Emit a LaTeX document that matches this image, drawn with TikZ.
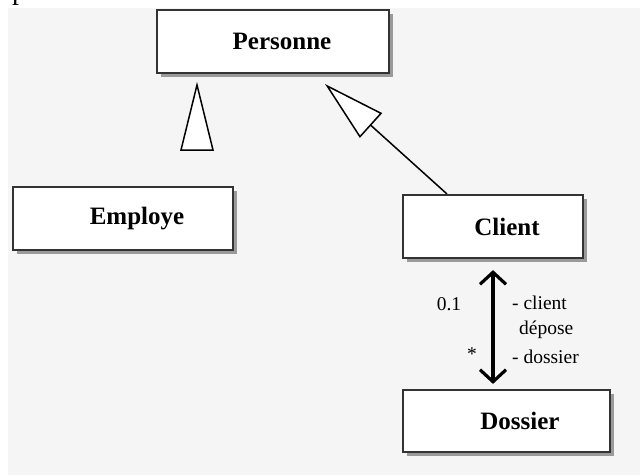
\documentclass[tikz,border=0pt]{standalone}
\usepackage{fontspec}
\setmainfont{Liberation Serif}
\usetikzlibrary{arrows.meta,shadows,calc}
\begin{document}
\begin{tikzpicture}[x=1pt,y=-1pt,
  cls/.style={draw=black!80, line width=2.2pt, fill=white, minimum height=63pt, inner sep=0pt,
    font=\fontsize{25}{28}\selectfont\bfseries,
    drop shadow={shadow xshift=4pt, shadow yshift=-4pt, fill=black!75}},
  lbl/.style={font=\fontsize{19.5}{22}\selectfont, inner sep=0pt},
  gen/.style={line width=1.5pt, -{Triangle[length=62pt,width=33pt,fill=white]}},
  assoc/.style={line width=3.2pt, {Straight Barb[length=12pt,width=26pt]}-{Straight Barb[length=12pt,width=26pt]}}]
\useasboundingbox (0,0) rectangle (640,475);
\begin{scope}
\clip (0,0) rectangle (640,475);
\fill[black!4] (8,8) rectangle (640,475);
\node[anchor=base west, inner sep=0pt, font=\fontsize{28}{30}\selectfont] (top) at (-2,-0.5) {optimisation :};
\end{scope}
\node[cls, minimum width=232pt] (pers) at (273,41.5) {\hspace*{18pt}Personne};
\node[cls, minimum width=220pt] (emp) at (123,218.5) {\hspace*{28pt}Employe};
\node[cls, minimum width=180pt] (client) at (493,226.5) {\hspace*{28pt}Client};
\node[cls, minimum width=207pt, minimum height=62pt] (dossier) at (506.5,421) {\hspace*{27pt}Dossier};
% generalisation triangle below Personne (Employe side)
\draw[line width=1.5pt, fill=white] (197,85) -- (213,150) -- (181,150) -- cycle;
% generalisation Client -> Personne
\coordinate (pa) at (325,84);
\draw[gen] ($(client.north west)+(45,0)$) -- (pa);
% association Client <-> Dossier
\draw[assoc] ($(client.south)+(0,11)$) -- ($(client.south |- dossier.north)+(0,-5)$);
\node[lbl] (m1) at (449,304) {0.1};
\node[lbl] (m2) at (472,354) {*};
\node[lbl, anchor=west] (r1) at (512,303) {- client};
\node[lbl, anchor=west] (r2) at (519,330) {dépose};
\node[lbl, anchor=west] (r3) at (512,357) {- dossier};
\end{tikzpicture}
\end{document}
